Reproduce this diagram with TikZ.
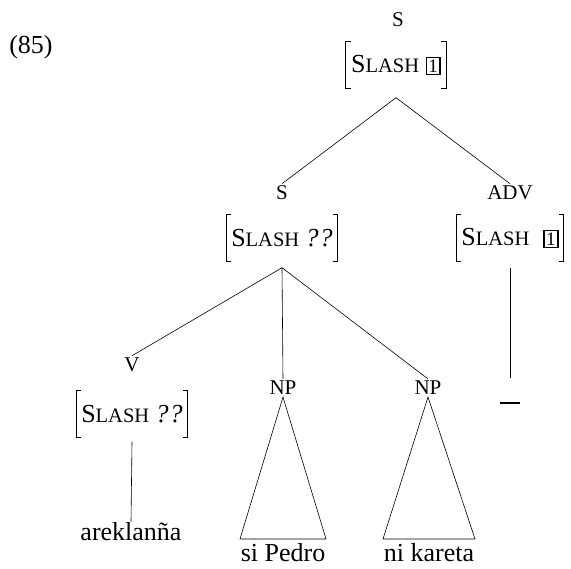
\documentclass[tikz,border=0pt]{standalone}
\usepackage{fontspec}
\setmainfont{Liberation Serif}
\newcommand{\SLtxt}{{\fontsize{26}{30}\selectfont S\fontsize{20.5}{24}\selectfont LASH}}
\newcommand{\tagone}{{\setlength{\fboxrule}{1.4pt}\setlength{\fboxsep}{1.5pt}\fbox{\fontsize{19}{21}\selectfont 1}}}
\newcommand{\qq}{\textit{?\kern1pt?}}
\tikzset{
  lab/.style={font=\fontsize{21}{24}\selectfont, inner sep=2pt},
  txt/.style={font=\fontsize{26}{30}\selectfont, inner sep=1pt},
  avm/.style={font=\fontsize{26}{30}\selectfont, minimum height=47pt, inner xsep=5pt, inner ysep=0pt},
  brk/.style={line width=0.9pt},
  edge/.style={line width=0.6pt}
}
\newcommand{\brackets}[1]{%
  \draw[brk] ([xshift=5pt]#1.north west) -- (#1.north west) -- (#1.south west) -- ([xshift=5pt]#1.south west);
  \draw[brk] ([xshift=-5pt]#1.north east) -- (#1.north east) -- (#1.south east) -- ([xshift=-5pt]#1.south east);}
\begin{document}
\begin{tikzpicture}[x=1pt,y=-1pt]
\useasboundingbox (0,0) rectangle (571,569);
% example number
\node[txt] (ex) at (31,47) {(85)};
% top S
\node[lab] (s1) at (398,20) {S};
\node[avm] (a1) at (396,65) {\SLtxt\ \tagone};
\brackets{a1}
\path (a1.south) ++(0,9) coordinate (t1);
% S2
\node[lab] (s2) at (282,193) {S};
\node[avm] (a2) at (282,238) {\SLtxt\ \qq};
\brackets{a2}
\path (a2.south) ++(0,6) coordinate (t2);
% ADV
\node[lab] (adv) at (510,193) {ADV};
\node[avm] (a3) at (510,238) {\SLtxt\hspace{14pt}\tagone};
\brackets{a3}
\path (a3.south) ++(0,6) coordinate (t3);
\node[inner sep=0pt] (tr) at (510,403) {\rule{20pt}{1.6pt}};
% V
\node[lab] (v) at (132,365) {V};
\node[avm] (a4) at (132,414) {\SLtxt\ \qq};
\brackets{a4}
\path (a4.south) ++(0,4) coordinate (t4);
\node[txt] (w1) at (131,532) {areklanña};
% NPs
\node[lab] (np1) at (283,388) {NP};
\node[lab] (np2) at (428,388) {NP};
\node[txt] (w2) at (283,553) {si Pedro};
\node[txt] (w3) at (429,553) {ni kareta};
% edges
\draw[edge] (t1) -- (s2.north);
\draw[edge] (t1) -- (adv.north);
\draw[edge] (t2) -- (v.north);
\draw[edge] (t2) -- (np1.north);
\draw[edge] (t2) -- (np2.north);
\draw[edge] (t3) -- ([yshift=24pt]tr.north);
\draw[edge] (t4) -- (w1.north);
% triangles
\draw[edge] (np1.south) -- (240,539) -- (326,539) -- cycle;
\draw[edge] (np2.south) -- (383,539) -- (475,539) -- cycle;
\end{tikzpicture}
\end{document}
